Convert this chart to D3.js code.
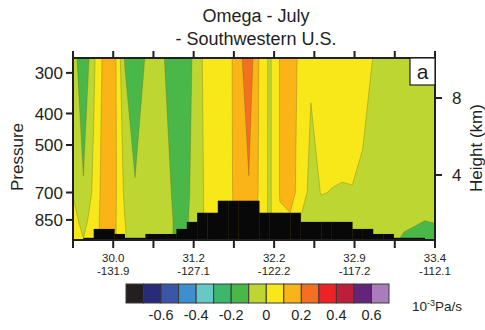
<!doctype html>
<meta charset="utf-8">
<style>
  body { margin: 0; background: #fff; }
  text { font-family: "Liberation Sans", Arial, sans-serif; fill: #231f20; }
</style>
<body>
<script src="https://cdn.jsdelivr.net/npm/d3@7"></script>
<script>

// pressure levels (hPa) of the data rows, top to bottom
let levels = [270, 700, 850, 980];

// omega (10^-3 Pa/s) along the transect, 36 columns per level
let omega270 = [-0.04, -0.2, -0.02, 0.13, 0.14, -0.105, -0.18, -0.095, -0.05, -0.11, -0.17, -0.16,
                -0.04, 0.04, 0.06, 0.062, 0.162, 0.27, 0.095, -0.02, 0.105, 0.15, 0.075, 0.015,
                0.05, 0.06, 0.06, 0.05, 0.03, -0.001, -0.03, -0.04, -0.04, -0.04, -0.04, -0.04];
let omega700 = [-0.005, -0.086, 0.02, 0.15, 0.13, -0.02, -0.09, -0.05, -0.04, -0.07, -0.13, -0.12,
                -0.05, 0.03, 0.05, 0.07, 0.14, 0.19, 0.09, -0.02, 0.105, 0.15, 0.05, -0.03,
                0.003, -0.002, -0.005, -0.003, -0.014, -0.03, -0.04, -0.05, -0.05, -0.05, -0.06, -0.06];
let omega850 = [0.03, -0.03, 0.04, 0.15, 0.12, 0.002, -0.05, -0.05, -0.04, -0.06, -0.12, -0.11,
                -0.05, 0.03, 0.05, 0.07, 0.13, 0.15, 0.08, -0.02, 0.09, 0.082, -0.005, -0.04,
                -0.03, -0.03, -0.03, -0.03, -0.03, -0.03, -0.04, -0.05, -0.07, -0.08, -0.098, -0.09];
let omega980 = [0.03, 0.003, 0.04, 0.15, 0.12, 0.01, -0.05, -0.05, -0.04, -0.06, -0.12, -0.11,
                -0.05, 0.03, 0.05, 0.07, 0.13, 0.15, 0.08, -0.02, 0.09, 0.08, -0.01, -0.04,
                -0.04, -0.04, -0.04, -0.04, -0.04, -0.04, -0.06, -0.08, -0.12, -0.14, -0.15, -0.15];

// surface pressure (hPa) under each of the 35 cells, null = no terrain shown
let surface = [null, 965, 906, 906, 939, 965, 965, 939, 939, 939, 906, 862, 808, 808,
               742, 742, 742, 742, 808, 808, 808, 808, 862, 862, 862, 862, 862,
               906, 906, 939, 939, 965, 965, 965, null];

let lats = ["30.0", "31.2", "32.2", "32.9", "33.4"];
let lons = ["-131.9", "-127.1", "-122.2", "-117.2", "-112.1"];
let pressureTicks = [300, 400, 500, 700, 850];
let heightTicks = [4, 8];

let thresholds = [-0.7, -0.6, -0.5, -0.4, -0.3, -0.2, -0.1, 0, 0.1, 0.2, 0.3, 0.4, 0.5, 0.6];
let colors = ["#231f20", "#272b78", "#3a56a6", "#3f8fce", "#68c8c6", "#3cb86b", "#4ab848",
              "#bdd632", "#f8e81a", "#fbb417", "#f37021", "#ec2227", "#bd1e3c", "#62257a", "#a97cbb"];
let legendTicks = ["-0.6", "-0.4", "-0.2", "0", "0.2", "0.4", "0.6"];

let width = 485, height = 330;
let x0 = 73, x1 = 435, y0 = 58, y1 = 240;

let svg = d3.select("body").append("svg")
    .attr("width", width)
    .attr("height", height);

let nCols = omega270.length;
let rows = [omega270, omega700, omega850, omega980];
let values = [].concat(...rows);

let gx = d3.scaleLinear().domain([0, nCols - 1]).range([x0, x1]);
let tx = d3.scaleLinear().domain([0, 9]).range([x0, x1]);
let y = d3.scaleLog().domain([270, 980]).range([y0, y1]);
let yh = d3.scaleLinear().domain([0.62, 10.08]).range([y1, y0]);
let rowY = levels.map(y);

// grid coords from d3.contours -> pixels
function px(c) {
  let u = Math.max(0, Math.min(nCols - 1, c - 0.5));
  return gx(u);
}
function py(c) {
  let v = Math.max(0, Math.min(levels.length - 1, c - 0.5));
  let i = Math.min(Math.floor(v), levels.length - 2);
  return rowY[i] + (v - i) * (rowY[i + 1] - rowY[i]);
}
let path = d3.geoPath(d3.geoTransform({
  point: function(a, b) { this.stream.point(px(a), py(b)); }
}));

svg.append("clipPath").attr("id", "plot")
  .append("rect").attr("x", x0).attr("y", y0).attr("width", x1 - x0).attr("height", y1 - y0);

let plot = svg.append("g").attr("clip-path", "url(#plot)");

plot.append("rect")
    .attr("x", x0).attr("y", y0).attr("width", x1 - x0).attr("height", y1 - y0)
    .attr("fill", colors[0]);

let contours = d3.contours()
    .size([nCols, levels.length])
    .thresholds(thresholds)(values);

plot.selectAll("path.band")
  .data(contours)
  .enter().append("path")
    .attr("class", "band")
    .attr("d", path)
    .attr("fill", (d, i) => colors[i + 1])
    .attr("stroke", "rgba(110,100,20,0.55)")
    .attr("stroke-width", 0.6);

// terrain
plot.selectAll("rect.ground")
  .data(surface.map((p, i) => ({p: p, i: i})).filter(d => d.p != null))
  .enter().append("rect")
    .attr("class", "ground")
    .attr("x", d => gx(d.i))
    .attr("width", d => gx(d.i + 1) - gx(d.i) + 0.3)
    .attr("y", d => y(d.p))
    .attr("height", d => y1 - y(d.p) + 2)
    .attr("fill", "#080808");

// frame
svg.append("rect")
    .attr("x", x0).attr("y", y0).attr("width", x1 - x0).attr("height", y1 - y0)
    .attr("fill", "none").attr("stroke", "#231f20").attr("stroke-width", 2);

let ticks = svg.append("g").attr("stroke", "#231f20").attr("stroke-width", 2);
d3.range(10).forEach(k => {
  ticks.append("line").attr("x1", tx(k)).attr("x2", tx(k)).attr("y1", y0).attr("y2", y0 - 7);
  ticks.append("line").attr("x1", tx(k)).attr("x2", tx(k)).attr("y1", y1).attr("y2", y1 + 8);
});
pressureTicks.forEach(p => {
  ticks.append("line").attr("x1", x0 - 7).attr("x2", x0).attr("y1", y(p)).attr("y2", y(p));
});
heightTicks.forEach(h => {
  ticks.append("line").attr("x1", x1).attr("x2", x1 + 7).attr("y1", yh(h)).attr("y2", yh(h));
});

svg.selectAll("text.pt")
  .data(pressureTicks)
  .enter().append("text")
    .attr("x", x0 - 10)
    .attr("y", d => y(d))
    .attr("dy", "0.36em")
    .attr("text-anchor", "end")
    .attr("font-size", 17)
    .text(d => d);

svg.selectAll("text.ht")
  .data(heightTicks)
  .enter().append("text")
    .attr("x", x1 + 17)
    .attr("y", d => yh(d))
    .attr("dy", "0.36em")
    .attr("font-size", 17)
    .text(d => d);

// lat / lon labels, two lines per tick
lats.forEach((lat, k) => {
  let xx = tx(2 * k + 1);
  svg.append("text").attr("x", xx).attr("y", 261.5).attr("text-anchor", "middle")
    .attr("font-size", 11.5).text(lat);
  svg.append("text").attr("x", xx).attr("y", 274.5).attr("text-anchor", "middle")
    .attr("font-size", 11.5).text(lons[k]);
});

svg.append("text").attr("x", 256).attr("y", 22).attr("text-anchor", "middle")
  .attr("font-size", 18).text("Omega - July");
svg.append("text").attr("x", 256).attr("y", 45).attr("text-anchor", "middle")
  .attr("font-size", 18).text("- Southwestern U.S.");

svg.append("text")
    .attr("transform", "translate(23,157) rotate(-90)")
    .attr("text-anchor", "middle")
    .attr("font-size", 17)
    .text("Pressure");
svg.append("text")
    .attr("transform", "translate(482,148) rotate(-90)")
    .attr("text-anchor", "middle")
    .attr("font-size", 17)
    .text("Height (km)");

// panel letter
svg.append("rect").attr("x", 410).attr("y", y0).attr("width", x1 - 410).attr("height", 27)
  .attr("fill", "#fff").attr("stroke", "#231f20").attr("stroke-width", 1.2);
svg.append("text").attr("x", 422.5).attr("y", 79).attr("text-anchor", "middle")
  .attr("font-size", 21).text("a");

// colour bar
let lx = d3.scaleLinear().domain([-0.8, 0.7]).range([126, 389]);
let legend = svg.append("g");
legend.selectAll("rect")
  .data(colors)
  .enter().append("rect")
    .attr("x", (d, i) => lx(-0.8 + i * 0.1))
    .attr("width", (d, i) => lx(-0.7 + i * 0.1) - lx(-0.8 + i * 0.1))
    .attr("y", 284)
    .attr("height", 19)
    .attr("fill", d => d)
    .attr("stroke", "#3a3a3a")
    .attr("stroke-width", 1);
legend.selectAll("text")
  .data(legendTicks)
  .enter().append("text")
    .attr("x", d => lx(+d))
    .attr("y", 320)
    .attr("text-anchor", "middle")
    .attr("font-size", 14.5)
    .text(d => d);

let unit = svg.append("text").attr("x", 412).attr("y", 311).attr("font-size", 13.5);
unit.append("tspan").text("10");
unit.append("tspan").attr("dy", -5).attr("font-size", 9).text("-3");
unit.append("tspan").attr("dy", 5).text("Pa/s");

</script>
